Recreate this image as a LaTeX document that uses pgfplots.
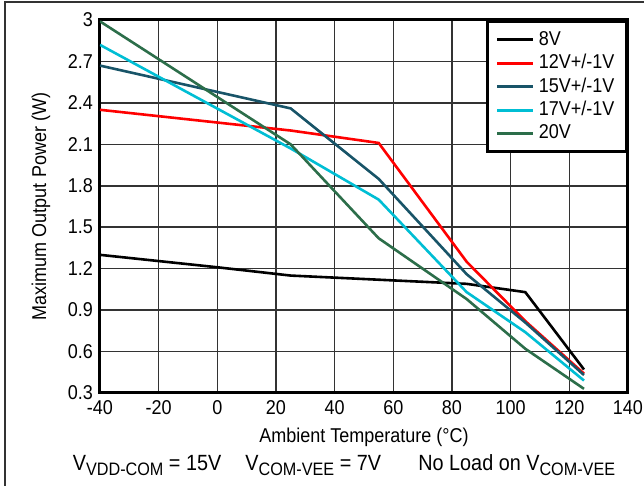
\documentclass[border=0pt]{standalone}
\usepackage{fontspec}
\setmainfont[FakeStretch=0.9]{Liberation Sans}
\usepackage{pgfplots}
\pgfplotsset{compat=1.18}
\definecolor{cteal}{RGB}{24,84,104}
\definecolor{ccyan}{RGB}{0,190,212}
\definecolor{cgreen}{RGB}{44,110,74}
\newcommand{\sub}[1]{\raisebox{-0.45ex}{\fontsize{9}{10}\selectfont #1}}
\begin{document}
\fontsize{10}{12}\selectfont
\begin{tikzpicture}
\useasboundingbox (-50pt,-46.5pt) rectangle (272pt,196.5pt);
\draw[black!80, line width=0.8pt] (-47.5pt,-46.5pt) -- (-47.5pt,195.5pt) -- (272pt,195.5pt);
\begin{axis}[
    at={(0pt,0pt)}, anchor=south west,
    scale only axis, width=264pt, height=186.5pt,
    xmin=-40, xmax=140, ymin=0.3, ymax=3,
    xtick={-40,-20,...,140},
    ytick={0.3,0.6,0.9,1.2,1.5,1.8,2.1,2.4,2.7,3},
    yticklabels={0.3,0.6,0.9,1.2,1.5,1.8,2.1,2.4,2.7,3},
    /pgf/number format/assume math mode=true,
    tick label style={font=\fontsize{10}{12}\selectfont},
    major tick length=0pt,
    grid=major,
    major grid style={black!80, line width=0.8pt},
    axis line style={line width=1.5pt},
    xlabel={Ambient Temperature (°C)},
    ylabel={Maximum Output Power (W)},
    label style={font=\fontsize{10}{12}\selectfont},
    ylabel style={yshift=2pt},
    legend style={at={(rel axis cs:1,1)}, anchor=north east, draw=black,
        line width=1.5pt, font=\fontsize{10}{10}\selectfont,
        row sep=-1pt, inner xsep=4pt, inner ysep=3pt},
    legend cell align=left,
    legend image code/.code={\draw[#1, line width=1.5pt] (0pt,0pt) -- (18pt,0pt);},
    every axis plot/.append style={line width=1.3pt},
]
\addplot[black] coordinates {(-40,1.30) (0,1.21) (25,1.15) (55,1.12) (85,1.09) (105,1.03) (125,0.47)};
\addplot[red] coordinates {(-40,2.35) (25,2.20) (55,2.11) (85,1.25) (105,0.82) (125,0.44)};
\addplot[cteal] coordinates {(-40,2.67) (25,2.36) (55,1.85) (85,1.16) (105,0.81) (125,0.43)};
\addplot[ccyan] coordinates {(-40,2.82) (25,2.07) (55,1.70) (85,1.03) (105,0.74) (125,0.39)};
\addplot[cgreen] coordinates {(-40,2.99) (25,2.10) (55,1.42) (85,0.98) (105,0.62) (125,0.33)};
\legend{8V,12V+/-1V,15V+/-1V,17V+/-1V,20V}
\end{axis}
\node[font=\fontsize{11}{13}\selectfont] at (122pt,-36pt) {V\sub{VDD-COM} = 15V\hspace{1.1em}V\sub{COM-VEE} = 7V\hspace{1.7em}No Load on V\sub{COM-VEE}};
\end{tikzpicture}
\end{document}
